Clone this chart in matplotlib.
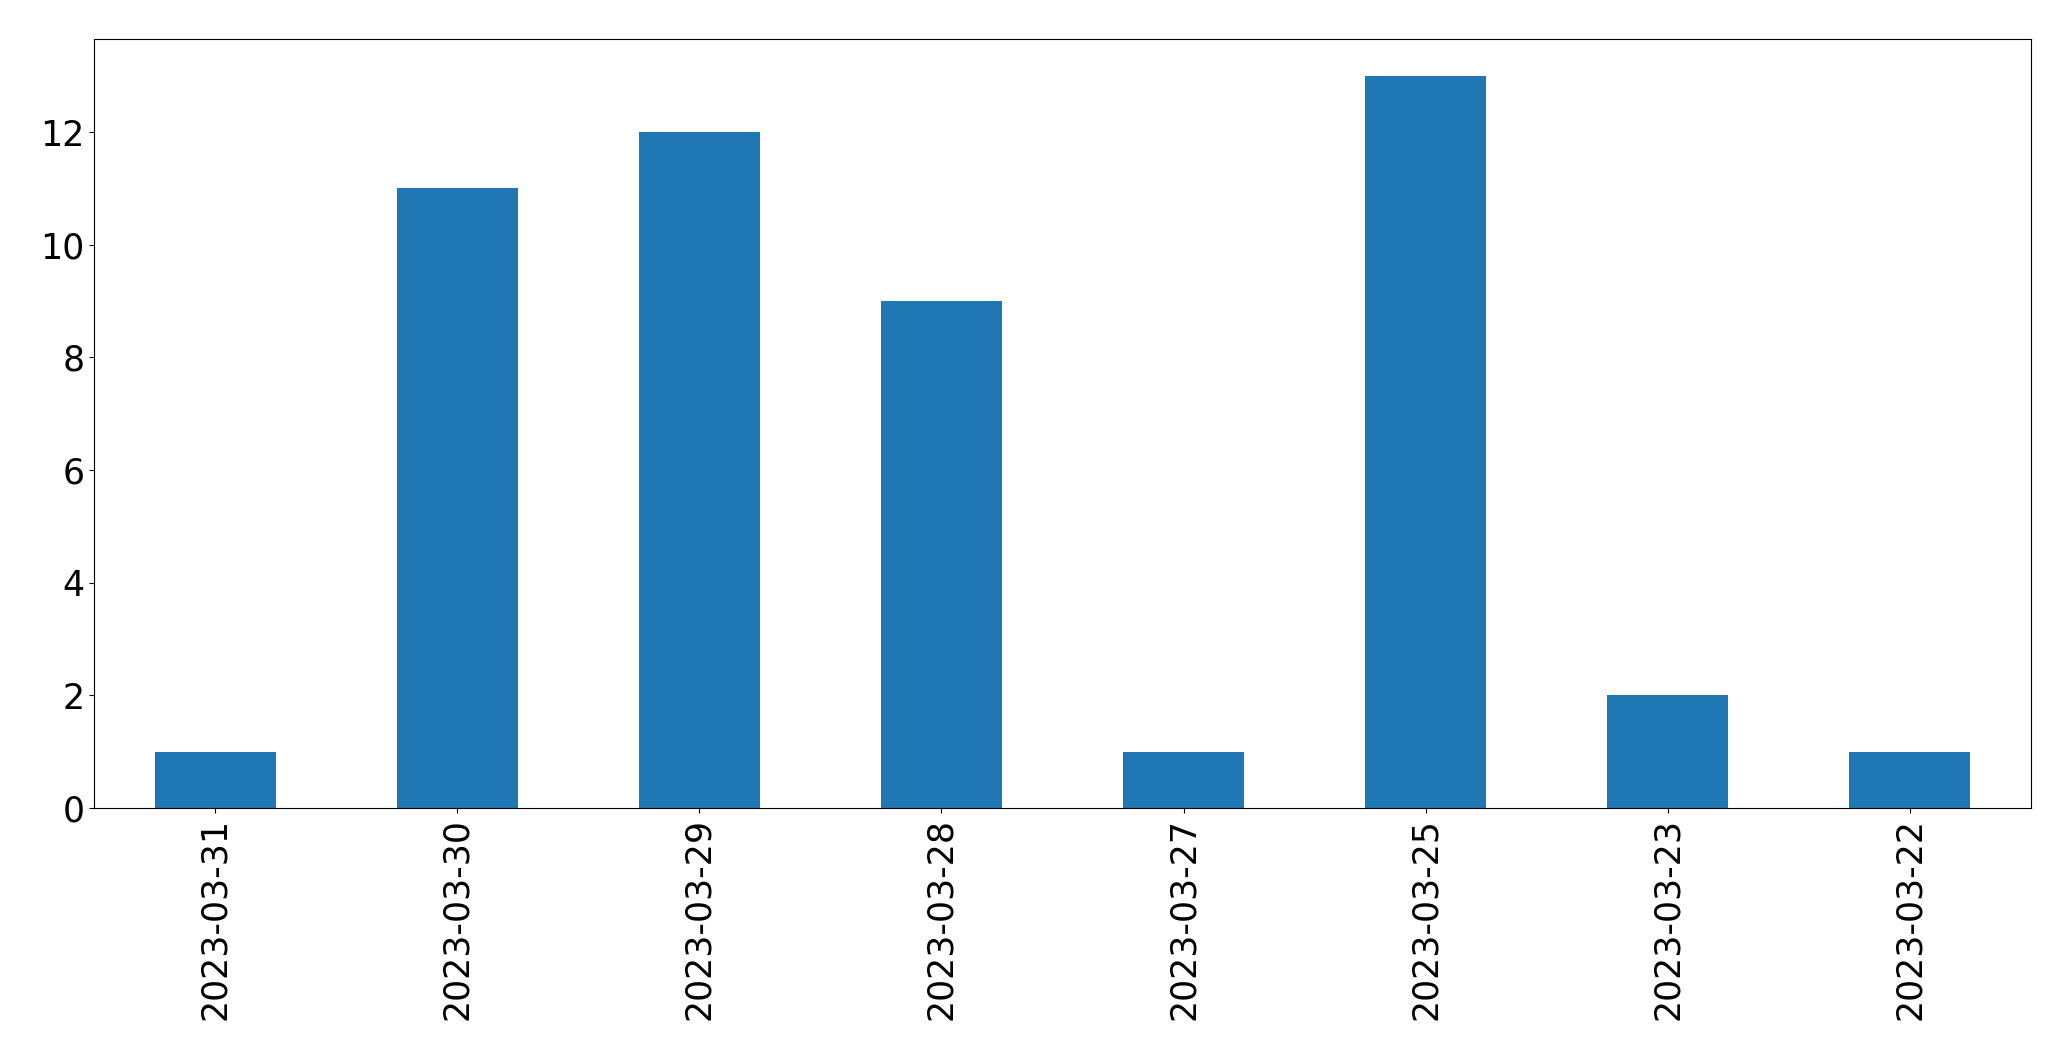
import matplotlib
matplotlib.use("Agg")
import matplotlib.pyplot as plt

# Daty i liczby wpisów
dates = ['2023-03-31', '2023-03-30', '2023-03-29', '2023-03-28',
         '2023-03-27', '2023-03-25', '2023-03-23', '2023-03-22']
counts = [1, 11, 12, 9, 1, 13, 2, 1]

fig = plt.figure(figsize=(20.71, 10.61), dpi=100)
ax = fig.add_axes([0.0454, 0.2385, 0.9353, 0.7245])

x = range(len(dates))
ax.bar(x, counts, width=0.5, color='#1f77b4')
ax.set_xticks(list(x))
ax.set_xticklabels(dates, rotation=90)
ax.set_xlim(-0.5, len(dates) - 0.5)
ax.set_ylim(0, max(counts) * 1.05)
ax.tick_params(labelsize=25)

fig.savefig('out.png', dpi=100)
